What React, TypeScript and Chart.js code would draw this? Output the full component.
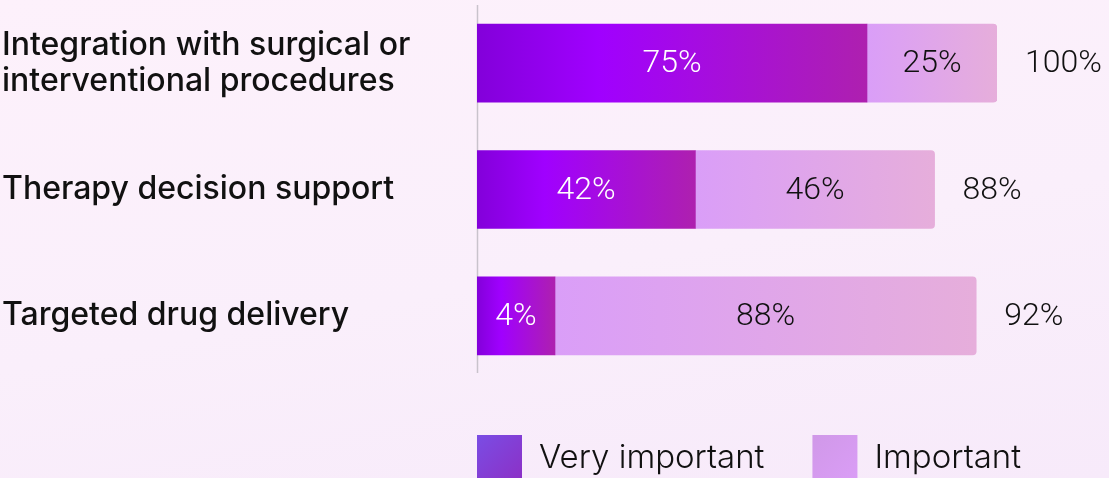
import React, { useEffect, useRef } from "react";
import { Chart, registerables } from "chart.js";

Chart.register(...registerables);

// ---- data ----
const categories: (string | string[])[] = [
  ["Integration with surgical or", "interventional procedures"],
  "Therapy decision support",
  "Targeted drug delivery",
];
const seriesNames = ["Very important", "Important"];
// values shown as labels
const veryImportantPct = [75, 42, 4];
const importantPct = [25, 46, 88];
const totalPct = [100, 88, 92];
// drawn segment lengths (small segment widened in the original)
const veryImportantBar = [75, 42, 15];
const importantBar = [25, 46, 81];

const LABEL_FONT = "Inter, 'Open Sans', sans-serif";
const VALUE_FONT = "Roboto, 'Liberation Sans', sans-serif";
const LEGEND_FONT = "Inter, 'Open Sans', sans-serif";

function segGradient(ctx: any, from: number, to: number, stops: [number, string][]) {
  const chart = ctx.chart;
  const x = chart.scales && chart.scales.x;
  if (!chart.chartArea || !x) return stops[0][1];
  const x0 = x.getPixelForValue(from);
  const x1 = x.getPixelForValue(to);
  const g = chart.ctx.createLinearGradient(x0, 0, Math.max(x1, x0 + 1), 0);
  stops.forEach(([o, c]) => g.addColorStop(o, c));
  return g;
}

const VI_STOPS: [number, string][] = [
  [0, "#8300DA"],
  [0.31, "#A000FF"],
  [1, "#AE20AF"],
];
const I_STOPS: [number, string][] = [
  [0, "#DA9EF8"],
  [1, "#E6AEDB"],
];

const labelsPlugin = {
  id: "segLabels",
  afterDatasetsDraw(chart: any) {
    const c = chart.ctx;
    c.save();
    c.font = `300 32px ${VALUE_FONT}`;
    c.textBaseline = "middle";
    const labelSets = [veryImportantPct, importantPct];
    chart.data.datasets.forEach((_: any, di: number) => {
      const meta = chart.getDatasetMeta(di);
      meta.data.forEach((el: any, i: number) => {
        const cx = (el.x + el.base) / 2;
        c.fillStyle = di === 0 ? "#ffffff" : "#111111";
        c.textAlign = "center";
        c.fillText(`${labelSets[di][i]}%`, cx, el.y + 1);
        if (di === chart.data.datasets.length - 1) {
          c.fillStyle = "#111111";
          c.textAlign = "left";
          c.fillText(`${totalPct[i]}%`, el.x + 28, el.y + 1);
        }
      });
    });
    c.restore();
  },
};

const axisLinePlugin = {
  id: "axisLine",
  beforeDatasetsDraw(chart: any) {
    const c = chart.ctx;
    const { left, top, bottom } = chart.chartArea;
    c.save();
    c.strokeStyle = "#c9c3cc";
    c.lineWidth = 1.5;
    c.beginPath();
    c.moveTo(left + 0.5, top + 5);
    c.lineTo(left + 0.5, bottom - 6);
    c.stroke();
    c.restore();
  },
};

const legendPlugin = {
  id: "customLegend",
  afterDraw(chart: any) {
    const c = chart.ctx;
    const { left } = chart.chartArea;
    c.save();
    c.font = `300 33px ${LEGEND_FONT}`;
    c.textBaseline = "alphabetic";
    c.textAlign = "left";
    let x = left;
    const top = 435;
    const boxW = 45;
    const boxes: [string, string][] = [
      ["#7A4DE4", "#8C30C6"],
      ["#D098E8", "#DA9DF6"],
    ];
    seriesNames.forEach((name, i) => {
      const g = c.createLinearGradient(x, top, x + boxW, top + 45);
      g.addColorStop(0, boxes[i][0]);
      g.addColorStop(1, boxes[i][1]);
      c.fillStyle = g;
      c.fillRect(x, top, boxW, 60);
      c.fillStyle = "#111111";
      c.fillText(name, x + boxW + 17, 468);
      x += boxW + 17 + c.measureText(name).width + 48;
    });
    c.restore();
  },
};

export default function App() {
  const ref = useRef<HTMLCanvasElement | null>(null);

  useEffect(() => {
    document.body.style.margin = "0";
    const canvas = ref.current;
    if (!canvas) return;
    const chart = new Chart(canvas, {
      type: "bar",
      data: {
        labels: categories as any,
        datasets: [
          {
            label: seriesNames[0],
            data: veryImportantBar,
            backgroundColor: (ctx: any) =>
              segGradient(ctx, 0, veryImportantBar[ctx.dataIndex] ?? 0, VI_STOPS),
            borderWidth: 0,
            borderRadius: 0,
            barThickness: 78,
          },
          {
            label: seriesNames[1],
            data: importantBar,
            backgroundColor: (ctx: any) => {
              const i = ctx.dataIndex ?? 0;
              const s = veryImportantBar[i] ?? 0;
              return segGradient(ctx, s, s + (importantBar[i] ?? 0), I_STOPS);
            },
            borderWidth: 0,
            borderRadius: 4,
            borderSkipped: "start",
            barThickness: 78,
          },
        ],
      },
      options: {
        indexAxis: "y",
        responsive: false,
        animation: false,
        events: [],
        layout: { padding: { left: 2, right: 112, top: 0, bottom: 99 } },
        plugins: {
          legend: { display: false },
          tooltip: { enabled: false },
        },
        scales: {
          x: {
            stacked: true,
            min: 0,
            max: 100,
            display: false,
          },
          y: {
            stacked: true,
            grid: { display: false },
            border: { display: false },
            ticks: {
              color: "#111111",
              crossAlign: "far",
              padding: 0,
              font: { family: LABEL_FONT, size: 32, weight: "500", lineHeight: 1.12 },
            },
            afterFit: (scale: any) => {
              scale.width = 475;
              scale.paddingTop = 0;
              scale.paddingBottom = 0;
            },
          },
        },
      },
      plugins: [axisLinePlugin, labelsPlugin, legendPlugin],
    });
    return () => chart.destroy();
  }, []);

  return (
    <div
      style={{
        width: 1109,
        height: 478,
        background: "linear-gradient(170deg, #fdf1fb 0%, #faeffb 55%, #f7eafa 100%)",
      }}
    >
      <canvas ref={ref} width={1109} height={478} style={{ display: "block" }} />
    </div>
  );
}
